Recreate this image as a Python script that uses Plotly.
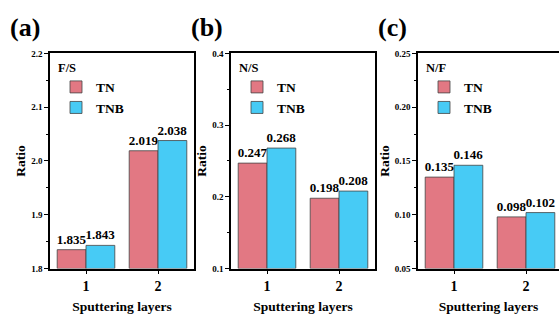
import plotly.graph_objects as go

categories = [1, 2]
panel_labels = ["(a)", "(b)", "(c)"]
panel_titles = ["F/S", "N/S", "N/F"]
tn_values = [[1.835, 2.019], [0.247, 0.198], [0.135, 0.098]]
tnb_values = [[1.843, 2.038], [0.268, 0.208], [0.146, 0.102]]
label_fmt = ["{:.3f}", "{:.3f}", "{:.3f}"]
y_ranges = [[1.8, 2.2], [0.1, 0.4], [0.05, 0.25]]
y_dticks = [0.1, 0.1, 0.05]
y_fmts = [".1f", ".1f", ".2f"]

W, H = 559, 320
x_domains = [[50 / W, 194 / W], [231 / W, 375 / W], [418 / W, 1.0]]
x_ranges = [[0.5, 2.5], [0.5, 2.5], [0.5, 0.5 + 141 / 72]]
y_domain = [(H - 272) / H, (H - 50) / H]

TN_COLOR = "#E27883"
TNB_COLOR = "#47CBF5"
FONT = "'Liberation Serif', 'Times New Roman', Times, serif"

fig = go.Figure()
for i in range(3):
    xa = "x" if i == 0 else f"x{i+1}"
    ya = "y" if i == 0 else f"y{i+1}"
    lg = "legend" if i == 0 else f"legend{i+1}"
    for name, vals, col in [("TN", tn_values[i], TN_COLOR), ("TNB", tnb_values[i], TNB_COLOR)]:
        fig.add_trace(go.Bar(
            x=categories, y=[v - y_ranges[i][0] for v in vals], base=y_ranges[i][0],
            name=name, marker=dict(color=col, line=dict(color="#444444", width=0.8)),
            text=[label_fmt[i].format(v) for v in vals], textposition="outside",
            textfont=dict(family=FONT, size=13, color="black", weight="bold"),
            constraintext="none", cliponaxis=False,
            xaxis=xa, yaxis=ya, legend=lg, offsetgroup=name,
        ))

layout = dict(
    width=W, height=H, margin=dict(l=0, r=0, t=0, b=0),
    paper_bgcolor="white", plot_bgcolor="white",
    barmode="group", bargap=0.2, bargroupgap=0,
    font=dict(family=FONT, color="black"),
    showlegend=True,
)
annotations = []
for i in range(3):
    sfx = "" if i == 0 else str(i + 1)
    xa_key, ya_key = "xaxis" + sfx, "yaxis" + sfx
    layout[xa_key] = dict(
        domain=x_domains[i], range=x_ranges[i], anchor="y" + sfx,
        tickvals=categories, ticks="outside", ticklen=4, tickwidth=1.2, tickcolor="black",
        showline=True, linecolor="black", linewidth=1.5, mirror=True,
        showgrid=False, zeroline=False,
        tickfont=dict(family=FONT, size=14, weight="bold"),
        title=dict(text="Sputtering layers", font=dict(family=FONT, size=13.5, weight="bold"), standoff=9),
        fixedrange=True,
    )
    layout[ya_key] = dict(
        domain=y_domain, range=y_ranges[i], anchor="x" + sfx,
        dtick=y_dticks[i], tick0=y_ranges[i][0], tickformat=y_fmts[i],
        ticks="outside", ticklen=4, tickwidth=1.2, tickcolor="black",
        minor=dict(dtick=y_dticks[i] / 2, ticks="outside", ticklen=2, tickwidth=1, tickcolor="black"),
        showline=True, linecolor="black", linewidth=1.5, mirror=(i < 2),
        showgrid=False, zeroline=False,
        tickfont=dict(family=FONT, size=9, weight="bold"),
        title=dict(text="Ratio", font=dict(family=FONT, size=13.5, weight="bold"), standoff=2),
        fixedrange=True,
    )
    lg_key = "legend" + sfx
    layout[lg_key] = dict(
        x=x_domains[i][0] + 6 / W, y=y_domain[1] - 2 / H, xanchor="left", yanchor="top",
        xref="paper", yref="paper",
        bgcolor="rgba(0,0,0,0)", borderwidth=0,
        title=dict(text=panel_titles[i], font=dict(family=FONT, size=12.5, weight="bold")),
        font=dict(family=FONT, size=13.5, weight="bold"),
        tracegroupgap=0, itemwidth=30, traceorder="normal",
    )
    annotations.append(dict(
        text=panel_labels[i], x=x_domains[i][0] - 42 / W, y=1 - 6 / H,
        xref="paper", yref="paper", xanchor="left", yanchor="top", showarrow=False,
        font=dict(family=FONT, size=26, weight="bold"),
    ))
layout["annotations"] = annotations
fig.update_layout(**layout)
fig.write_html("out.html")
